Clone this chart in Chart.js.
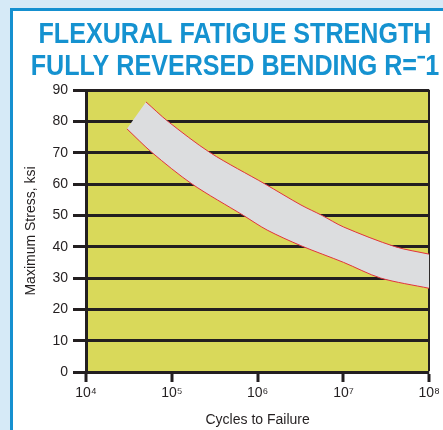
<!DOCTYPE html>
<html>
<head>
<meta charset="utf-8">
<title>Flexural Fatigue Strength</title>
<script src="https://cdn.jsdelivr.net/npm/chart.js@4.4.1/dist/chart.umd.min.js"></script>
<style>
  html, body { margin: 0; padding: 0; }
  body { width: 443px; height: 430px; background: #d6eaf7; position: relative; overflow: hidden; }
  .panel {
    position: absolute; left: 10px; top: 8px; right: 0; bottom: 0;
    background: #fff;
    border-left: 3px solid #1590d0;
    border-top: 3px solid #1590d0;
  }
  #fatigueChart { position: absolute; left: 0; top: 0; }
</style>
</head>
<body>
<div class="panel"></div>
<canvas id="fatigueChart" width="443" height="430"></canvas>

<script>
// DATA
const titleLines = ["FLEXURAL FATIGUE STRENGTH", "FULLY REVERSED BENDING R=⁻1"];
const decadeTicks = [1e4, 1e5, 1e6, 1e7, 1e8];
const stressTicks = [0, 10, 20, 30, 40, 50, 60, 70, 80, 90];

// upper edge of the band
const upperCycles = [5.0e4, 9.0e4, 2.8e5, 1.22e6, 3.2e6, 5.6e6, 1e7, 4.0e7, 1e8];
const upperStress = [86.2, 80, 70, 60, 53.3, 50, 46.3, 40, 37.6];

// lower edge of the band
const lowerCycles = [3.0e4, 5.9e4, 1.72e5, 6.8e5, 1.29e6, 3.2e6, 1e7, 2.7e7, 1e8];
const lowerStress = [77.6, 70, 60, 50, 45.3, 40.3, 35, 30, 26.7];

const superDigits = { "0": "⁰", "1": "¹", "2": "²", "3": "³", "4": "⁴", "5": "⁵", "6": "⁶", "7": "⁷", "8": "⁸", "9": "⁹" };

const upperPts = upperCycles.map((c, i) => ({ x: c, y: upperStress[i] }));
const lowerPts = lowerCycles.map((c, i) => ({ x: c, y: lowerStress[i] }));

// grey band: upper edge, then lower edge back (corner points doubled so the spline stays sharp there)
const lastUp = upperPts[upperPts.length - 1];
const lastLow = lowerPts[lowerPts.length - 1];
const bandPts = [...upperPts, lastUp, lastLow, ...lowerPts.slice().reverse()];

const ink = "#231f20";
const tickFont = { family: "'Liberation Sans', Arial, sans-serif", size: 14 };

// yellow plot background
const plotBg = {
  id: "plotBg",
  beforeDraw(chart) {
    const { ctx, chartArea } = chart;
    ctx.save();
    ctx.fillStyle = "#d9d95a";
    ctx.fillRect(chartArea.left, chartArea.top, chartArea.right - chartArea.left, chartArea.bottom - chartArea.top);
    ctx.restore();
  }
};

// blue condensed heading (squeezed sideways, no narrow font installed)
const heading = {
  id: "heading",
  afterDraw(chart) {
    const ctx = chart.ctx;
    ctx.save();
    ctx.font = "bold 30px 'Liberation Sans', Arial, sans-serif";
    ctx.fillStyle = "#1592d0";
    ctx.textAlign = "center";
    ctx.textBaseline = "alphabetic";
    const squeeze = 393 / ctx.measureText(titleLines[0]).width;
    [43, 75].forEach((baseY, i) => {
      ctx.save();
      ctx.translate(235, baseY);
      ctx.scale(squeeze, 1);
      ctx.fillText(titleLines[i], 0, 0);
      ctx.restore();
    });
    ctx.restore();
  }
};

const ctx = document.getElementById("fatigueChart");

new Chart(ctx, {
  type: "scatter",
  data: {
    datasets: [
      {
        label: "upper",
        data: upperPts,
        showLine: true,
        borderColor: "#e2323d",
        borderWidth: 1,
        pointRadius: 0,
        tension: 0.3,
        fill: false
      },
      {
        label: "lower",
        data: lowerPts,
        showLine: true,
        borderColor: "#e2323d",
        borderWidth: 1,
        pointRadius: 0,
        tension: 0.3,
        fill: false
      },
      {
        label: "band",
        data: bandPts,
        showLine: true,
        borderWidth: 0,
        borderColor: "rgba(0,0,0,0)",
        backgroundColor: "#dcdddf",
        pointRadius: 0,
        tension: 0.3,
        fill: "shape"
      }
    ]
  },
  options: {
    responsive: false,
    animation: false,
    layout: { padding: { left: 0, right: 13, top: 90, bottom: 0 } },
    plugins: {
      legend: { display: false },
      tooltip: { enabled: false },
      title: { display: false }
    },
    scales: {
      x: {
        type: "logarithmic",
        min: 1e4,
        max: 1e8,
        afterFit: (scale) => { scale.height = 58; },
        afterBuildTicks: (scale) => { scale.ticks = decadeTicks.map(v => ({ value: v })); },
        ticks: {
          color: ink,
          padding: 3,
          maxRotation: 0,
          autoSkip: false,
          font: tickFont,
          callback: (v) => "10" + String(Math.round(Math.log10(v))).split("").map(d => superDigits[d]).join("")
        },
        grid: {
          color: (c) => (c.tick && c.tick.value === 1e8 ? ink : "rgba(0,0,0,0)"),
          lineWidth: (c) => (c.tick && c.tick.value === 1e8 ? 2 : 0),
          tickColor: ink,
          tickWidth: 3,
          tickLength: 10
        },
        border: { display: true, color: ink, width: 3 },
        title: {
          display: true,
          text: "Cycles to Failure",
          color: ink,
          font: { family: "'Liberation Sans', Arial, sans-serif", size: 14 },
          padding: { top: 0, bottom: 1.6 }
        }
      },
      y: {
        min: 0,
        max: 90,
        afterFit: (scale) => { scale.width = 86; },
        afterBuildTicks: (scale) => { scale.ticks = stressTicks.map(v => ({ value: v })); },
        ticks: {
          color: ink,
          padding: 5,
          font: tickFont
        },
        grid: {
          color: ink,
          lineWidth: 3,
          tickColor: ink,
          tickWidth: 3,
          tickLength: 13
        },
        border: { display: true, color: ink, width: 3 },
        title: {
          display: true,
          text: "Maximum Stress, ksi",
          color: ink,
          font: { family: "'Liberation Sans', Arial, sans-serif", size: 14 },
          padding: { top: 22.6, bottom: 0 }
        }
      }
    }
  },
  plugins: [plotBg, heading]
});
</script>
</body>
</html>
